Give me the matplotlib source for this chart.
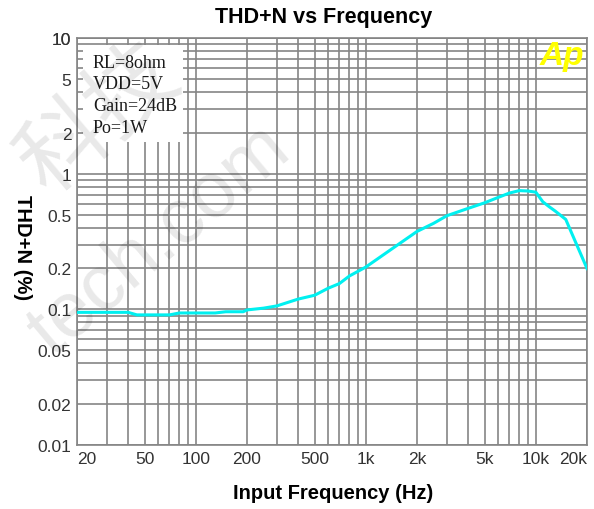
import matplotlib.pyplot as plt
from matplotlib.patches import Rectangle

# data
freq = [20, 30, 40, 45, 50, 60, 70, 80, 100, 130, 150, 190, 200, 250, 300,
        400, 500, 600, 700, 800, 1000, 1500, 2000, 2500, 3000, 4000, 5000,
        6000, 7000, 8000, 9000, 10000, 11000, 12000, 13000, 15000, 17000, 20000]
thd = [0.095, 0.095, 0.095, 0.091, 0.091, 0.091, 0.091, 0.094, 0.094, 0.094,
       0.096, 0.096, 0.099, 0.102, 0.106, 0.119, 0.127, 0.143, 0.155, 0.176,
       0.205, 0.292, 0.375, 0.43, 0.49, 0.555, 0.61, 0.668, 0.72, 0.75, 0.745,
       0.73, 0.62, 0.57, 0.53, 0.46, 0.32, 0.2]

x_labels = {20: "20", 50: "50", 100: "100", 200: "200", 500: "500", 1000: "1k",
            2000: "2k", 5000: "5k", 10000: "10k", 20000: "20k"}
y_labels = {0.01: "0.01", 0.02: "0.02", 0.05: "0.05", 0.1: "0.1", 0.2: "0.2",
            0.5: "0.5", 1: "1", 2: "2", 5: "5", 10: "10"}
notes = ["RL=8ohm", "VDD=5V", "Gain=24dB", "Po=1W"]

W, H = 594, 510
fig = plt.figure(figsize=(W / 100, H / 100), dpi=100)
ax = fig.add_axes([77 / W, 1 - 446 / H, 510 / W, 407 / H])

ax.set_xscale("log")
ax.set_yscale("log")
ax.set_xlim(20, 20000)
ax.set_ylim(0.01, 10)

# grid lines at every 1..9 multiple
xg = [m * 10 ** e for e in range(1, 5) for m in range(1, 10)]
xg = [v for v in xg if 20 <= v <= 20000]
yg = [m * 10.0 ** e for e in range(-2, 2) for m in range(1, 10)] + [10]
yg = [round(v, 4) for v in yg if 0.01 <= v <= 10]

ax.set_xticks(xg)
ax.set_xticklabels([x_labels.get(v, "") for v in xg])
ax.set_yticks(yg)
ax.set_yticklabels([y_labels.get(v, "") for v in yg])
ax.minorticks_off()
ax.tick_params(length=0, labelsize=12.5, colors="#333333", pad=4)
for lab in ax.get_xticklabels() + ax.get_yticklabels():
    lab.set_fontfamily("Liberation Sans")
xt = ax.get_xticklabels()
xt[0].set_ha("left")
xt[-1].set_ha("right")

ax.grid(True, color="#858585", linewidth=1.2)
for s in ax.spines.values():
    s.set_color("#858585")
    s.set_linewidth(1.2)

ax.plot(freq, thd, color="#00F0F0", linewidth=2.2, zorder=3)

# white note box in the top-left corner
ax.add_patch(Rectangle((6 / 510, 1 - 104 / 407), 100 / 510, 97 / 407,
                       transform=ax.transAxes, facecolor="white",
                       edgecolor="none", zorder=2.5))
for i, t in enumerate(notes):
    fig.text(93 / W, 1 - (63 + 21.7 * i) / H, t, fontsize=13,
             family="Liberation Serif", va="center", ha="left", color="#1a1a1a")

# Ap logo
fig.text(584 / W, 1 - 56 / H, "Ap", fontsize=24, fontweight="bold",
         style="italic", color="#FFFF00", ha="right", va="center",
         family="Liberation Sans")

fig.text(324 / W, 1 - 18 / H, "THD+N vs Frequency", fontsize=15.5,
         fontweight="bold", ha="center", va="center", family="Liberation Sans")
fig.text(333 / W, 1 - 494 / H, "Input Frequency (Hz)", fontsize=14.5,
         fontweight="bold", ha="center", va="center", family="Liberation Sans")
fig.text(22 / W, 1 - 248 / H, "THD+N (%)", fontsize=14.5, fontweight="bold",
         rotation=270, ha="center", va="center", family="Liberation Sans")

# faint watermark
fig.text(100 / W, 1 - 120 / H, "科技", fontsize=64, rotation=40, color="k",
         alpha=0.09, ha="center", va="center",
         family=["Noto Sans CJK SC", "DejaVu Sans"])
fig.text(160 / W, 1 - 240 / H, "tech.com", fontsize=56, rotation=40, color="k",
         alpha=0.09, ha="center", va="center", family="Liberation Sans")

fig.savefig("out.png", dpi=100)
